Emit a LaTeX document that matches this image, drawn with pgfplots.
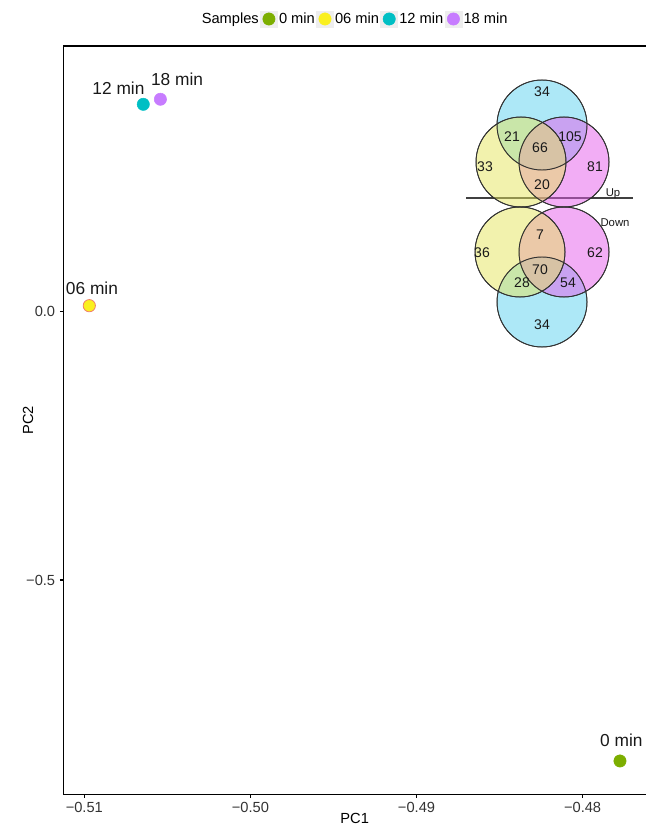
\documentclass[border=0pt]{standalone}
\usepackage{fontspec}
\setmainfont{Liberation Sans}
\usepackage{pgfplots}
\usepackage{pgfplotstable}
\pgfplotsset{compat=1.18}
\definecolor{cGreen}{HTML}{7CAE00}
\definecolor{cYellow}{HTML}{FAF01E}
\definecolor{cYellowEdge}{HTML}{F0806A}
\definecolor{cCyan}{HTML}{00BFC4}
\definecolor{cPurple}{HTML}{C77CFF}
\definecolor{vY}{rgb}{0.90,0.90,0.36}
\definecolor{vC}{rgb}{0.36,0.82,0.94}
\definecolor{vP}{rgb}{0.90,0.36,0.92}
\definecolor{keybg}{HTML}{EEEEEE}

% Venn counts (positions in picture pixels, y downwards)
\pgfplotstableread{
x y label
542 92 34
512 137 21
540 148 66
570 137 105
485 167 33
595 167 81
542 185 20
540 235 7
482 253 36
595 253 62
540 270 70
522 283 28
568 283 54
542 325 34
}\venncounts

\begin{document}
\begin{tikzpicture}
\begin{axis}[
  at={(47.5pt,23.8pt)}, anchor=south west,
  scale only axis, width=437pt, height=561.2pt,
  xmin=-0.511264, xmax=-0.476183, ymin=-0.899, ymax=0.4944,
  axis x line*=bottom, axis y line*=left,
  axis line style={line width=1.1pt, black, -},
  tick align=outside, major tick length=2.6pt,
  tick style={black, line width=0.8pt},
  xtick={-0.51,-0.50,-0.49,-0.48},
  xticklabels={−0.51,−0.50,−0.49,−0.48},
  ytick={-0.5,0}, yticklabels={−0.5,0.0},
  ticklabel style={font=\fontsize{11}{13}\selectfont, text=black!80},
  xlabel={PC1}, ylabel={PC2},
  label style={font=\fontsize{11}{13}\selectfont},
  xlabel style={at={(rel axis cs:0.5,0)}, anchor=north, yshift=-14.2pt, inner sep=0pt},
  ylabel style={at={(rel axis cs:0,0.5)}, anchor=center, yshift=26.5pt},
  clip=false,
  legend columns=-1,
  legend style={at={(0.5,1)}, anchor=center, yshift=20.25pt, draw=none, fill=none,
    font=\fontsize{11}{13}\selectfont, inner sep=0pt,
    nodes={inner xsep=1pt, inner ysep=1pt},
    /tikz/every even column/.append style={column sep=0pt}},
]
\addlegendimage{empty legend}
\addlegendentry{Samples\hspace{7pt}}
\addlegendimage{legend image code/.code={\fill[keybg] (0pt,-6pt) rectangle (12.75pt,6pt); \fill[cGreen] (6.375pt,0pt) circle[radius=4.6pt];}}
\addlegendentry{0 min}
\addlegendimage{legend image code/.code={\fill[keybg] (0pt,-6pt) rectangle (12.75pt,6pt); \fill[cYellow] (6.375pt,0pt) circle[radius=4.6pt];}}
\addlegendentry{06 min}
\addlegendimage{legend image code/.code={\fill[keybg] (0pt,-6pt) rectangle (12.75pt,6pt); \fill[cCyan] (6.375pt,0pt) circle[radius=4.6pt];}}
\addlegendentry{12 min}
\addlegendimage{legend image code/.code={\fill[keybg] (0pt,-6pt) rectangle (12.75pt,6pt); \fill[cPurple] (6.375pt,0pt) circle[radius=4.6pt];}}
\addlegendentry{18 min}

\addplot[forget plot, only marks, mark=*, mark size=4.6pt, mark options={draw=cGreen, fill=cGreen}] coordinates {(-0.47775,-0.837)};
\addplot[forget plot, only marks, mark=*, mark size=4.6pt, mark options={draw=cYellowEdge, fill=cYellow, line width=0.6pt}] coordinates {(-0.5097,0.0108)};
\addplot[forget plot, only marks, mark=*, mark size=4.6pt, mark options={draw=cCyan, fill=cCyan}] coordinates {(-0.50645,0.3858)};
\addplot[forget plot, only marks, mark=*, mark size=4.6pt, mark options={draw=cPurple, fill=cPurple}] coordinates {(-0.50542,0.3952)};

\node[font=\fontsize{13}{15}\selectfont, text=black!90, xshift=1.1pt, yshift=15.4pt] at (axis cs:-0.47775,-0.837) {0 min};
\node[font=\fontsize{13}{15}\selectfont, text=black!90, xshift=2pt, yshift=13.3pt] at (axis cs:-0.5097,0.0108) {06 min};
\node[font=\fontsize{13}{15}\selectfont, text=black!90, xshift=-18.6pt, yshift=12.2pt] at (axis cs:-0.50645,0.3858) {12 min};
\node[font=\fontsize{13}{15}\selectfont, text=black!90, xshift=12.5pt, yshift=15.2pt] at (axis cs:-0.50542,0.3952) {18 min};

\draw[line width=1.1pt, black] (rel axis cs:0,1) -- (rel axis cs:1,1);
\end{axis}

% Inset Venn diagrams, drawn in a hidden axis in picture-pixel units
\begin{axis}[
  at={(0pt,0pt)}, anchor=south west,
  scale only axis, width=484.5pt, height=619.5pt,
  xmin=0, xmax=646, ymin=0, ymax=826, y dir=reverse,
  hide axis, clip=false,
]
\addplot[only marks, mark=*, mark size=33.75pt, mark options={fill=vC, fill opacity=0.5, draw=none}] coordinates {(542,125) (542,302)};
\addplot[only marks, mark=*, mark size=33.75pt, mark options={fill=vP, fill opacity=0.5, draw=none}] coordinates {(564,162) (564,252)};
\addplot[only marks, mark=*, mark size=33.75pt, mark options={fill=vY, fill opacity=0.5, draw=none}] coordinates {(521,162) (520,252)};
\addplot[only marks, mark=o, mark size=33.75pt, mark options={draw=black!80, line width=0.7pt}] coordinates {(542,125) (542,302) (564,162) (564,252) (521,162) (520,252)};
\addplot[black!75, line width=0.8pt] coordinates {(466,198) (633,198)};
\addplot[only marks, mark=none, nodes near coords, point meta=explicit symbolic,
  nodes near coords style={anchor=center, font=\fontsize{10.5}{12}\selectfont, text=black!90}]
  table[x=x, y=y, meta=label] {\venncounts};
\node[font=\fontsize{8.5}{10}\selectfont, text=black!90] at (axis cs:613,194) {Up};
\node[font=\fontsize{8.5}{10}\selectfont, text=black!90] at (axis cs:615,223) {Down};
\end{axis}

\pgfresetboundingbox
\path[use as bounding box] (0pt,0pt) rectangle (484.5pt,619.5pt);
\end{tikzpicture}
\end{document}
